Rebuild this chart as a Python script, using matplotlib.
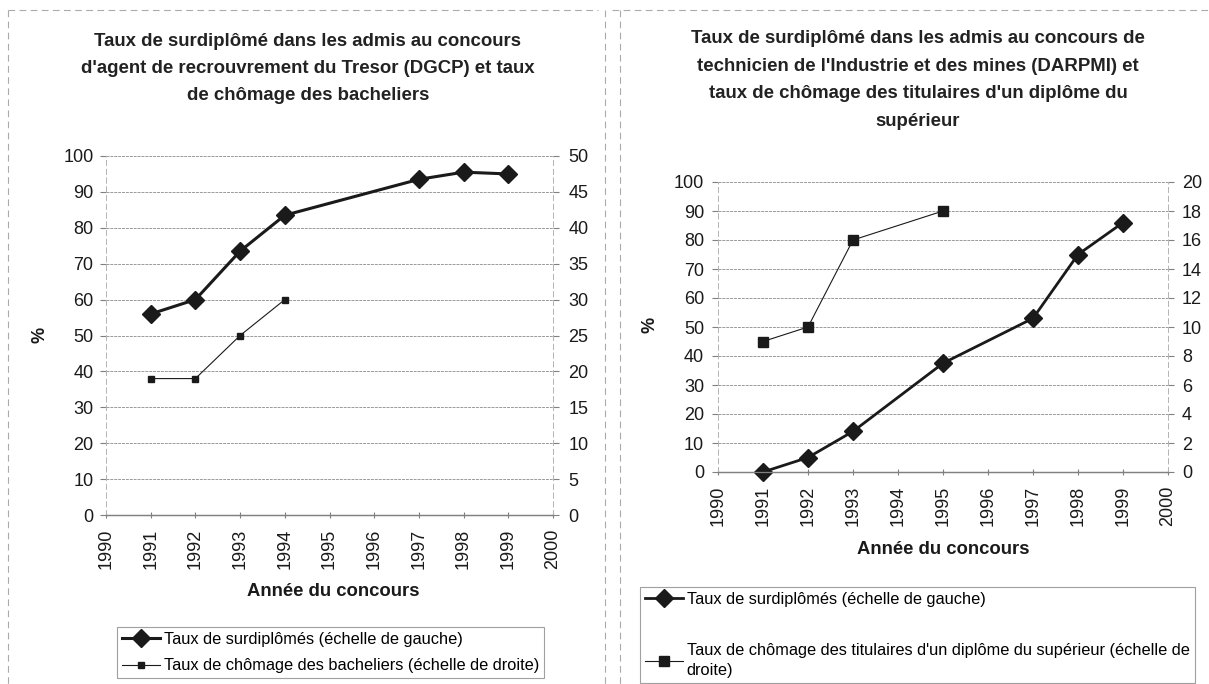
import matplotlib
matplotlib.use("Agg")
import matplotlib.pyplot as plt
from matplotlib.lines import Line2D

plt.rcParams['font.family'] = ['Liberation Sans', 'DejaVu Sans']

# ---------------- data ----------------
years_ticks = list(range(1990, 2001))

# Left chart (DGCP)
left_years_surdip = [1991, 1992, 1993, 1994, 1997, 1998, 1999]
left_surdip = [56, 60, 73.5, 83.5, 93.5, 95.5, 95]
left_years_chom = [1991, 1992, 1993, 1994]
left_chom = [19, 19, 25, 30]

# Right chart (DARPMI)
right_years_surdip = [1991, 1992, 1993, 1995, 1997, 1998, 1999]
right_surdip = [0, 5, 14, 37.5, 53, 75, 86]
right_years_chom = [1991, 1992, 1993, 1995]
right_chom = [9, 10, 16, 18]

left_title = ("Taux de surdiplômé dans les admis au concours\n"
              "d'agent de recrouvrement du Tresor (DGCP) et taux\n"
              "de chômage des bacheliers")
right_title = ("Taux de surdiplômé dans les admis au concours de\n"
               "technicien de l'Industrie et des mines (DARPMI) et\n"
               "taux de chômage des titulaires d'un diplôme du\n"
               "supérieur")
leg_surdip = "Taux de surdiplômés (échelle de gauche)"
leg_left_chom = "Taux de chômage des bacheliers (échelle de droite)"
leg_right_chom = "Taux de chômage des titulaires d'un diplôme du supérieur (échelle de\ndroite)"
xlabel = "Année du concours"

W, H = 1209, 684
fig = plt.figure(figsize=(W / 100, H / 100), dpi=100)

GRID = '#9a9a9e'
TXT = '#1a1a1a'


def fx(px):
    return px / W


def fy(py):
    return 1 - py / H


def style_axes(ax, ax2, ymax_l, ymax_r, step_r, padl, padr):
    ax.set_xlim(1990, 2000)
    ax.set_ylim(0, ymax_l)
    ax2.set_ylim(0, ymax_r)
    ax.set_yticks(range(0, ymax_l + 1, 10))
    ax2.set_yticks(range(0, ymax_r + 1, step_r))
    ax.set_xticks(years_ticks)
    ax.set_xticklabels([str(y) for y in years_ticks], rotation=90)
    ax.grid(axis='y', color=GRID, lw=0.7, ls=(0, (3, 1)))
    ax.set_axisbelow(True)
    for a in (ax, ax2):
        a.spines['top'].set_visible(False)
        for s in ('left', 'right'):
            a.spines[s].set_color('#b5b5b5')
            a.spines[s].set_linestyle((0, (5, 4)))
            a.spines[s].set_linewidth(0.7)
        a.spines['bottom'].set_color('#808080')
        a.spines['bottom'].set_linewidth(0.9)
    ax.tick_params(axis='y', labelsize=13, colors=TXT, length=4, width=0.8, color='#808080', pad=padl)
    ax2.tick_params(axis='y', labelsize=13, colors=TXT, length=4, width=0.8, color='#808080', pad=padr)
    ax.tick_params(axis='x', labelsize=13, colors=TXT, length=4, width=0.8, color='#808080',
                   direction='inout', pad=8)


# ---------------- left chart ----------------
axL = fig.add_axes([fx(106), fy(515), fx(553) - fx(106), fy(156) - fy(515)])
axL2 = axL.twinx()
style_axes(axL, axL2, 100, 50, 5, 5, 7)
l1, = axL.plot(left_years_surdip, left_surdip, color='#1a1a1a', lw=2.2, marker='D',
               markersize=9, zorder=5, clip_on=False)
l2, = axL2.plot(left_years_chom, left_chom, color='#1a1a1a', lw=0.8, marker='s',
                markersize=5, zorder=5, clip_on=False)
fig.text(fx(333), fy(592), xlabel, fontsize=13.3, fontweight='bold', color=TXT,
         ha='center', va='center')
fig.text(fx(40), fy(335), "%", rotation=90, fontsize=13, fontweight='bold', color=TXT,
         ha='center', va='center')
fig.text(fx(308), fy(68.5), left_title, ha='center', va='center', fontsize=13.4,
         fontweight='bold', color='#222222', linespacing=1.8)
legL = fig.legend([l1, l2], [leg_surdip, leg_left_chom], loc='upper left',
                  bbox_to_anchor=(fx(117), fy(627)), fontsize=11.8, frameon=True,
                  fancybox=False, edgecolor='#888888', handlelength=2.35, handletextpad=0.2,
                  borderpad=0.3, labelspacing=0.7, borderaxespad=0)
legL.get_frame().set_linewidth(0.8)

# ---------------- right chart ----------------
axR = fig.add_axes([fx(718), fy(472), fx(1168) - fx(718), fy(182) - fy(472)])
axR2 = axR.twinx()
style_axes(axR, axR2, 100, 20, 2, 6, 6)
r1, = axR.plot(right_years_surdip, right_surdip, color='#1a1a1a', lw=2.0, marker='D',
               markersize=9, zorder=5, clip_on=False)
r2, = axR2.plot(right_years_chom, right_chom, color='#1a1a1a', lw=0.8, marker='s',
                markersize=6.5, zorder=5, clip_on=False)
fig.text(fx(943), fy(550), xlabel, fontsize=13.3, fontweight='bold', color=TXT,
         ha='center', va='center')
fig.text(fx(650), fy(325), "%", rotation=90, fontsize=13, fontweight='bold', color=TXT,
         ha='center', va='center')
fig.text(fx(918), fy(80), right_title, ha='center', va='center', fontsize=13.4,
         fontweight='bold', color='#222222', linespacing=1.8)
legR = fig.legend([r1, r2], [leg_surdip, leg_right_chom], loc='upper left',
                  bbox_to_anchor=(fx(640), fy(587)), fontsize=11.8, frameon=True,
                  fancybox=False, edgecolor='#888888', handlelength=2.35, handletextpad=0.2,
                  borderpad=0.3, labelspacing=2.2, borderaxespad=0)
for t in legR.get_texts():
    t.set_linespacing(1.45)
legR.get_frame().set_linewidth(0.8)

# ---------------- outer dashed frames ----------------
frame_kw = dict(color='#aaaaaa', lw=0.8, ls=(0, (6, 4)), transform=fig.transFigure)
fig.add_artist(Line2D([fx(8), fx(598)], [fy(10), fy(10)], **frame_kw))
fig.add_artist(Line2D([fx(8), fx(8)], [fy(10), fy(684)], **frame_kw))
fig.add_artist(Line2D([fx(605), fx(605)], [fy(10), fy(684)], **frame_kw))
fig.add_artist(Line2D([fx(612), fx(1209)], [fy(10), fy(10)], **frame_kw))
fig.add_artist(Line2D([fx(620), fx(620)], [fy(10), fy(684)], **frame_kw))

fig.savefig("out.png", dpi=100, facecolor='white')
